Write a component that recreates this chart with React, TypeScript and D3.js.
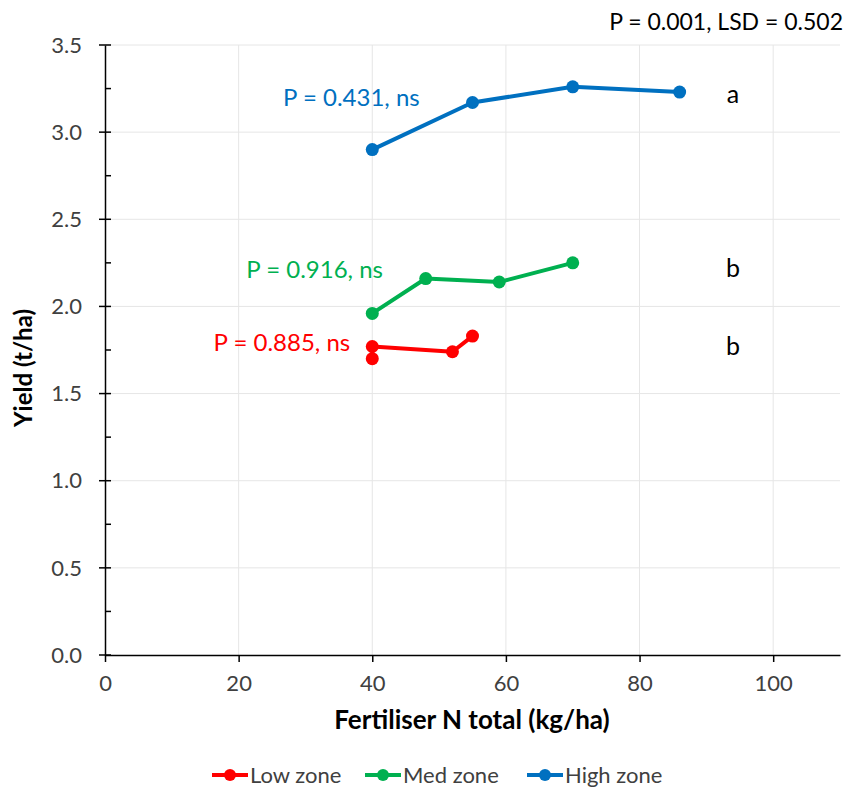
import React, { useEffect, useRef } from 'react'
import * as d3 from 'd3'

const lowN = [40, 40, 52, 55]
const lowYield = [1.70, 1.77, 1.74, 1.83]
const medN = [40, 48, 59, 70]
const medYield = [1.96, 2.16, 2.14, 2.25]
const highN = [40, 55, 70, 86]
const highYield = [2.90, 3.17, 3.26, 3.23]

const seriesNames = ['Low zone', 'Med zone', 'High zone']
const seriesColors = ['#FF0000', '#00B050', '#0070C0']
const pLabels = ['P = 0.885, ns', 'P = 0.916, ns', 'P = 0.431, ns']
// annotation anchors in data units (right end of P label, centre of letter)
const pLabelN = [36.7, 41.6, 47.1]
const pLabelYield = [1.79, 2.21, 3.20]
const letters = ['b', 'b', 'a']
const letterN = 94
const letterYield = [1.77, 2.22, 3.22]
const xTicks = [0, 20, 40, 60, 80, 100]
const yTicks = [0, 0.5, 1, 1.5, 2, 2.5, 3, 3.5]

const W = 858, H = 790
const margin = { top: 45, right: 18, bottom: 135, left: 105 }
const font = 'Lato, "Open Sans", sans-serif'

export default function App() {
  const ref = useRef<SVGSVGElement>(null)

  useEffect(() => {
    const svg = d3.select(ref.current)
    svg.selectAll('*').remove()

    const x = d3.scaleLinear().domain([0, 110]).range([margin.left, W - margin.right])
    const y = d3.scaleLinear().domain([0, 3.5]).range([H - margin.bottom, margin.top])

    const series = [
      { n: lowN, v: lowYield },
      { n: medN, v: medYield },
      { n: highN, v: highYield },
    ].map((s, i) => ({
      name: seriesNames[i],
      color: seriesColors[i],
      pts: s.n.map((n, j) => [n, s.v[j]] as [number, number]),
    }))

    // gridlines
    const grid = svg.append('g').attr('stroke', '#e6e6e6').attr('stroke-width', 1)
    grid.selectAll('line.h').data(yTicks.filter(d => d > 0)).join('line')
      .attr('x1', x(0)).attr('x2', x(110))
      .attr('y1', d => y(d)).attr('y2', d => y(d))
    grid.selectAll('line.v').data(xTicks.filter(d => d > 0)).join('line')
      .attr('class', 'v')
      .attr('y1', y(0)).attr('y2', y(3.5))
      .attr('x1', d => x(d)).attr('x2', d => x(d))

    // y axis
    const yAx = svg.append('g').attr('transform', `translate(${x(0)},0)`)
    yAx.call(d3.axisLeft(y).tickValues(yTicks).tickSize(0).tickFormat(() => ''))
    yAx.select('.domain').attr('stroke', '#000').attr('stroke-width', 1.5)
    yAx.selectAll('.tick').remove()
    yAx.selectAll('line.mj').data(yTicks).join('line')
      .attr('x1', -6).attr('x2', 6).attr('y1', d => y(d)).attr('y2', d => y(d))
      .attr('stroke', '#000').attr('stroke-width', 1.5)
    yAx.selectAll('line.mn').data(d3.range(0.25, 3.5, 0.5)).join('line')
      .attr('class', 'mn')
      .attr('x1', 0).attr('x2', 6).attr('y1', d => y(d)).attr('y2', d => y(d))
      .attr('stroke', '#000').attr('stroke-width', 1.5)
    yAx.selectAll('text.lbl').data(yTicks).join('text')
      .attr('x', -23).attr('y', d => y(d)).attr('dy', '0.35em')
      .attr('text-anchor', 'end').attr('font-family', font).attr('font-size', 22).attr('fill', '#404040')
      .text(d => d.toFixed(1))

    // x axis
    const xAx = svg.append('g').attr('transform', `translate(0,${y(0)})`)
    xAx.call(d3.axisBottom(x).tickValues(xTicks).tickSize(7).tickSizeOuter(0).tickPadding(13))
    xAx.select('.domain').attr('stroke', '#000').attr('stroke-width', 1.5)
    xAx.selectAll('.tick line').attr('stroke', '#000').attr('stroke-width', 1.5)
    xAx.selectAll('.tick text').attr('font-family', font).attr('font-size', 22).attr('fill', '#404040')

    // axis titles
    svg.append('text')
      .attr('transform', `translate(24,${(y(0) + y(3.5)) / 2 + 18}) rotate(-90)`)
      .attr('text-anchor', 'middle').attr('dy', '0.35em').attr('font-family', font).attr('font-size', 24).attr('font-weight', 'bold')
      .attr('fill', '#000').text('Yield (t/ha)')
    svg.append('text')
      .attr('x', 472).attr('y', 720).attr('dy', '0.35em')
      .attr('text-anchor', 'middle').attr('font-family', font).attr('font-size', 26).attr('font-weight', 'bold')
      .attr('fill', '#000').text('Fertiliser N total (kg/ha)')

    // series
    const line = d3.line<[number, number]>().x(d => x(d[0])).y(d => y(d[1]))
    series.forEach(s => {
      const g = svg.append('g')
      g.append('path').datum(s.pts).attr('d', line)
        .attr('fill', 'none').attr('stroke', s.color).attr('stroke-width', 4).attr('stroke-linejoin', 'round')
      g.selectAll('circle').data(s.pts).join('circle')
        .attr('cx', d => x(d[0])).attr('cy', d => y(d[1])).attr('r', 6.5).attr('fill', s.color)
    })

    // annotations
    series.forEach((s, i) => {
      svg.append('text')
        .attr('x', x(pLabelN[i])).attr('y', y(pLabelYield[i])).attr('dy', '0.35em')
        .attr('text-anchor', 'end').attr('font-family', font).attr('font-size', 24)
        .attr('fill', s.color).text(pLabels[i])
      svg.append('text')
        .attr('x', x(letterN)).attr('y', y(letterYield[i])).attr('dy', '0.35em')
        .attr('text-anchor', 'middle').attr('font-family', font).attr('font-size', 25)
        .attr('fill', '#000').text(letters[i])
    })

    svg.append('text')
      .attr('x', 843).attr('y', 22).attr('dy', '0.35em')
      .attr('text-anchor', 'end').attr('font-family', font).attr('font-size', 23)
      .attr('fill', '#000').text('P = 0.001, LSD = 0.502')

    // legend
    const legX = [212, 365, 527]
    const leg = svg.append('g').attr('transform', 'translate(0,775)')
    series.forEach((s, i) => {
      const g = leg.append('g').attr('transform', `translate(${legX[i]},0)`)
      g.append('line').attr('x1', 0).attr('x2', 36).attr('stroke', s.color).attr('stroke-width', 4)
      g.append('circle').attr('cx', 18).attr('r', 6).attr('fill', s.color)
      g.append('text').attr('x', 38).attr('dy', '0.35em')
        .attr('font-family', font).attr('font-size', 22).attr('fill', '#404040').text(s.name)
    })
  }, [])

  return <svg ref={ref} width={W} height={H} style={{ display: 'block', position: 'absolute', left: 0, top: 0 }} />
}
